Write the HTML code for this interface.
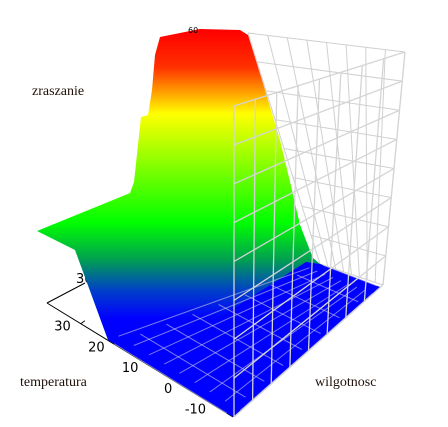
<!DOCTYPE html>
<html><head><meta charset="utf-8"><style>
html,body{margin:0;padding:0;background:#fff;}
svg{display:block;}
text{font-family:"Liberation Serif",serif;}
.tk{font-family:"DejaVu Sans","Liberation Sans",sans-serif;font-size:13px;fill:#000;}
</style></head><body>
<svg id="chart" width="448" height="427" viewBox="0 0 448 427" xmlns="http://www.w3.org/2000/svg">
<defs>
<linearGradient id="zg" x1="0" y1="30" x2="0" y2="340" gradientUnits="userSpaceOnUse">
<stop offset="0" stop-color="#ff0000"/>
<stop offset="0.12" stop-color="#ff3000"/>
<stop offset="0.27" stop-color="#ffff00"/>
<stop offset="0.40" stop-color="#a0ff00"/>
<stop offset="0.62" stop-color="#00ff00"/>
<stop offset="0.74" stop-color="#00a050"/>
<stop offset="0.84" stop-color="#0040c8"/>
<stop offset="0.93" stop-color="#0000ff"/>
<stop offset="1" stop-color="#0000ff"/>
</linearGradient>
</defs>
<g id="backgrid"></g>
<g id="axes"></g>
<polygon fill="url(#zg)" points="37,231 130,193 134,182 141,117 148,115 152,90 155,55 160,37 200,29 240,30 248,35 262,80 280,140 292,190 300,225 313,258 320,264 380,287 233,417 108,340 75,250"/>
<polygon fill="#0000ff" points="306,262 320,264 380,287 233,417 200,330"/>
<g id="floorgrid"></g>
<g id="wallgrid"></g>
<text x="32" y="95" font-size="14" fill="#201008">zraszanie</text>
<text x="20" y="386" font-size="14" fill="#201008">temperatura</text>
<text x="315" y="386" font-size="14" fill="#201008">wilgotnosc</text>
<text x="188" y="33" font-size="8" class="tk" style="font-size:8px">60</text>
</svg>
<script>
const tempTicks=[30,20,10,0,-10];
const tempLabels=["30","20","10","0","-10"];
const wallDivs=[0,1,2,3,4,5,6,7,8];
const NS="http://www.w3.org/2000/svg";
function lerp(a,b,t){return [a[0]+(b[0]-a[0])*t,a[1]+(b[1]-a[1])*t];}
function bil(q,u,v){return lerp(lerp(q[0],q[1],u),lerp(q[3],q[2],u),v);}
function line(g,p,q,c,w){const l=document.createElementNS(NS,'line');
l.setAttribute('x1',p[0]);l.setAttribute('y1',p[1]);l.setAttribute('x2',q[0]);l.setAttribute('y2',q[1]);
l.setAttribute('stroke',c);l.setAttribute('stroke-width',w);


g.appendChild(l);}
function grid(id,q,c,w){const g=document.getElementById(id);const n=wallDivs.length-1;
wallDivs.forEach(d=>{const t=d/n;line(g,bil(q,t,0),bil(q,t,1),c,w);line(g,bil(q,0,t),bil(q,1,t),c,w);});}
grid('backgrid',[[248,33],[405,52],[383,285],[320,264]],'#d0d0d0',1);
grid('wallgrid',[[234,106],[405,52],[383,285],[234,417]],'#d4d4d4',1.3);
(function(){const g=document.getElementById('floorgrid');
const q=[[233,417],[380,287],[320,264],[108,340]];const n=wallDivs.length-1;
wallDivs.forEach(d=>{const t=d/n;line(g,bil(q,t,0.05),bil(q,t,0.95),'rgba(200,200,230,0.6)',1);
line(g,bil(q,0.05,t),bil(q,0.95,t),'rgba(200,200,230,0.6)',1);});})();
(function(){const g=document.getElementById('axes');
const a=[47,303],b=[233,417];
line(g,a,b,'#000',1);line(g,a,[85,283],'#000',1);
const lo=-15,hi=40;
tempTicks.forEach((v,i)=>{const t=(hi-v)/(hi-lo);const p=lerp(a,b,t);
line(g,p,[p[0]+4,p[1]-3],'#000',1);
const tx=document.createElementNS(NS,'text');tx.setAttribute('class','tk');
tx.setAttribute('x',p[0]-10);tx.setAttribute('y',p[1]+7);tx.setAttribute('text-anchor','end');


tx.textContent=tempLabels[i];document.getElementById('chart').appendChild(tx);});
const t3=document.createElementNS(NS,'text');t3.setAttribute('class','tk');t3.setAttribute('x',76);t3.setAttribute('y',283);


t3.textContent="30";g.appendChild(t3);})();
</script>
</body></html>
